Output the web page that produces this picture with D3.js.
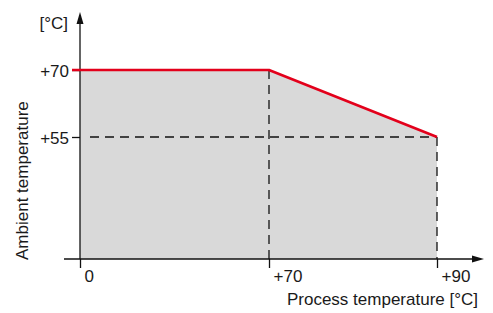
<!DOCTYPE html>
<html>
<head>
<meta charset="utf-8">
<script src="https://cdn.jsdelivr.net/npm/d3@7"></script>
<style>
  body { margin: 0; background: #fff; }
  svg { display: block; font-family: "Liberation Sans", Arial, sans-serif; }
  .tick text { font-size: 17px; fill: #1a1a1a; }
  .label { font-size: 17px; fill: #1a1a1a; }
</style>
</head>
<body>
<script>
// derating curve: process temp vs max ambient temp
const processTemp = [0, 70, 90];
const ambientTemp = [70, 70, 55];
const xTicks = [0, 70, 90];
const yTicks = [55, 70];
const xTickLabels = ['0', '+70', '+90'];
const yTickLabels = ['+55', '+70'];

const width = 493, height = 313;

const svg = d3.select('body').append('svg')
  .attr('width', width)
  .attr('height', height);

// the chart is schematic, so both scales are piecewise
const xScale = d3.scaleLinear().domain([0, 70, 90]).range([80, 269, 437]);
const yScale = d3.scaleLinear().domain([0, 55, 70]).range([259, 137, 70]);

const pts = processTemp.map((d, i) => [d, ambientTemp[i]]);

// grey area under the curve
const area = d3.area()
  .x(d => xScale(d[0]))
  .y0(yScale(0))
  .y1(d => yScale(d[1]));

svg.append('path')
  .datum(pts)
  .attr('d', area)
  .attr('fill', '#d9d9d9');

// dashed helper lines
const dash = '9,6';
svg.append('line')
  .attr('x1', xScale(70)).attr('x2', xScale(70))
  .attr('y1', yScale(70)).attr('y2', yScale(0))
  .attr('stroke', '#111').attr('stroke-width', 1.3).attr('stroke-dasharray', dash);
svg.append('line')
  .attr('x1', xScale(90)).attr('x2', xScale(90))
  .attr('y1', yScale(55)).attr('y2', yScale(0))
  .attr('stroke', '#111').attr('stroke-width', 1.3).attr('stroke-dasharray', dash);
svg.append('line')
  .attr('x1', xScale(0) + 10).attr('x2', xScale(90))
  .attr('y1', yScale(55)).attr('y2', yScale(55))
  .attr('stroke', '#111').attr('stroke-width', 1.3).attr('stroke-dasharray', dash);

// axes
const xAxis = d3.axisBottom(xScale)
  .tickValues(xTicks)
  .tickSize(9)
  .tickPadding(2)
  .tickFormat((d, i) => xTickLabels[i]);

const gx = svg.append('g')
  .attr('transform', 'translate(0 ' + yScale(0) + ')')
  .call(xAxis);
gx.select('.domain').remove();
gx.selectAll('.tick line').attr('stroke', '#111').attr('stroke-width', 1.3);
gx.selectAll('.tick text')
  .attr('text-anchor', 'start')
  .attr('x', 4)
  .attr('dy', '0.72em');

const yAxis = d3.axisLeft(yScale)
  .tickValues(yTicks)
  .tickSize(8)
  .tickPadding(3)
  .tickFormat((d, i) => yTickLabels[i]);

const gy = svg.append('g')
  .attr('transform', 'translate(' + xScale(0) + ' 0)')
  .call(yAxis);
gy.select('.domain').remove();
gy.selectAll('.tick line').attr('stroke', '#111').attr('stroke-width', 1.3);
gy.selectAll('.tick text').attr('dy', '0.36em');

// axis lines with arrow heads
svg.append('line')
  .attr('x1', 64).attr('x2', 478)
  .attr('y1', yScale(0)).attr('y2', yScale(0))
  .attr('stroke', '#111').attr('stroke-width', 1.3);
svg.append('path')
  .attr('d', 'M' + 484 + ',' + yScale(0) + 'l-12,-3.5v7z')
  .attr('fill', '#111');

svg.append('line')
  .attr('x1', xScale(0)).attr('x2', xScale(0))
  .attr('y1', yScale(0)).attr('y2', 20)
  .attr('stroke', '#111').attr('stroke-width', 1.3);
svg.append('path')
  .attr('d', 'M' + xScale(0) + ',12l-3.5,12h7z')
  .attr('fill', '#111');

// red derating line, starts at the tick mark left of the y axis
const line = d3.line()
  .x(d => xScale(d[0]))
  .y(d => yScale(d[1]));

svg.append('path')
  .datum(pts)
  .attr('d', d => 'M' + (xScale(0) - 8) + ',' + yScale(d[0][1]) + line(d).replace('M', 'L'))
  .attr('fill', 'none')
  .attr('stroke', '#e3001b')
  .attr('stroke-width', 2.6)
  .attr('stroke-linejoin', 'round');

// labels
svg.append('text')
  .attr('class', 'label')
  .attr('x', 68).attr('y', 29)
  .attr('text-anchor', 'end')
  .text('[°C]');

svg.append('text')
  .attr('class', 'label')
  .attr('x', 478).attr('y', 305)
  .attr('text-anchor', 'end')
  .text('Process temperature [°C]');

svg.append('text')
  .attr('class', 'label')
  .attr('transform', 'translate(28 260) rotate(-90)')
  .attr('text-anchor', 'start')
  .text('Ambient temperature');
</script>
</body>
</html>
